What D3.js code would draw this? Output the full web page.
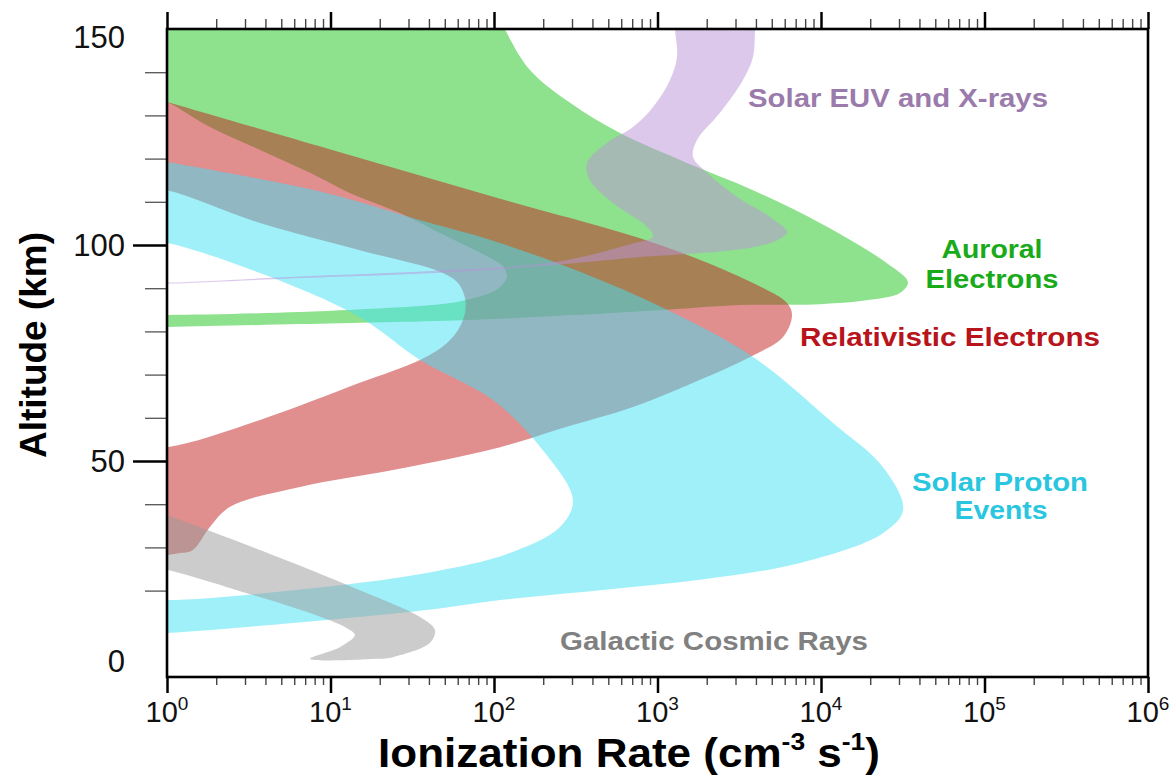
<!DOCTYPE html>
<html><head><meta charset="utf-8">
<script src="https://cdn.jsdelivr.net/npm/d3@7"></script>
<style>
body{margin:0;background:#fff}
svg{display:block}
text{font-family:"Liberation Sans",Arial,Helvetica,sans-serif}
</style>
</head><body>
<svg id="chart" width="1176" height="780"></svg>
<script>
// ---- data: outlines of each ionization band as [rate (cm^-3 s^-1), altitude (km)] ----
const xDecades = [0,1,2,3,4,5,6];
const yMajorTicks = [50,100];
const yMinorTicks = [20,30,40,60,70,80,90,110,120,130,140];
const yTickLabels = [0,50,100,150];

const auroralElectrons = [
  [0.5,165],[95,157],[117,149.8],[166,140.5],[292,132.9],[590,125.9],[1514,119.0],[3837,112.7],
  [9860,105.1],[25300,95.8],[34000,91.4],[30400,88.9],[19950,87.3],[9860,86.3],[3200,86.1],
  [1143,85.0],[253,83.6],[64.6,82.6],[6.51,81.7],[1,81.0],[0.5,80.8],[0.5,84.0],[1,83.8],
  [6.51,84.5],[26.6,85.6],[46.7,86.3],[59.4,86.8],[94.6,88.9],[109,90.3],[120,92.6],[113.5,95.1],
  [94.6,97.0],[53.8,101.6],[26.6,107.4],[13.2,112.0],[7.5,116.7],[3.71,122.0],[1.83,127.3],
  [1,133.1],[0.6,136]
];
const relativisticElectrons = [
  [0.5,136.4],[1,133.1],[10,122.1],[100,111.1],[1036,100.0],[3837,91.2],[6194,86.6],[6650,83.8],
  [5860,78.7],[3680,74.1],[1820,68.8],[708,62.5],[279,57.9],[109,53.2],[24.1,47.9],[6.51,44.0],
  [2.43,39.4],[1.83,34.7],[1.44,29.4],[1.2,28.7],[0.5,28.5],[0.5,53.5],[1,53.2],[3.71,59.5],
  [15.1,68.1],[35.3,73.4],[50.1,76.9],[60.2,80.3],[66.5,84.3],[66.5,87.7],[60.2,91.2],[46.7,93.8],
  [15.1,98.8],[3.71,105.1],[1,112.7],[0.5,114]
];
const solarProtonEvents = [
  [0.5,121],[1,119.2],[9.52,112.0],[38.9,105.3],[94.6,101.2],[336,93.8],[1143,85.0],[3837,74.1],
  [11840,58.8],[23900,48.6],[31800,38.7],[23900,33.3],[7445,26.4],[1820,22.5],[445,20.1],
  [109,17.8],[38.9,15.5],[5.9,12.5],[1,10.2],[0.5,9.8],[0.5,18.3],[1,17.8],[5.9,20.1],[38.9,24.1],
  [125,28.7],[253,34.7],[304,41.0],[199,52.5],[98.6,64.1],[35.3,73.4],[15.1,83.3],[3.71,93.5],
  [1,100.5],[0.5,102]
];
const galacticCosmicRays = [
  [0.5,41.8],[1,37.5],[3.71,29.4],[15.1,20.1],[35.3,13.9],[43.5,10.9],[40.6,7.9],[24.1,4.6],
  [19.2,4.2],[7.5,4.2],[11.4,6.9],[14.1,9.7],[12.6,11.3],[7.5,14.8],[2.33,20.8],[1,24.8],[0.5,26.9]
];
const solarEUVXrays = [
  [1227,158],[1280,149.8],[1316,143.5],[1192,138.2],[938,131.9],[708,127.3],[491,123.6],[371,119.0],
  [386,115.0],[534,109.7],[863,104.2],[938,101.9],[679,100.2],[243,96.1],[46.7,94.1],[6.51,92.7],
  [1,91.3],[0.8,91.35],[0.8,91.05],[1,91.05],[6.51,92.35],[46.7,93.6],[243,95.4],[782,97.2],[1514,97.9],
  [3837,99.5],[5610,101.4],[6194,103.0],[4876,106.5],[3063,111.1],[2010,116.7],[1648,120.4],
  [1745,124.3],[2410,130.6],[3333,138.2],[3837,143.5],[3945,149.8],[4000,158]
];

const bands = [
  {name:"Auroral", pts:auroralElectrons, fill:"rgb(29,197,29)"},
  {name:"Relativistic", pts:relativisticElectrons, fill:"rgb(193,29,29)"},
  {name:"SPE", pts:solarProtonEvents, fill:"rgb(65,225,245)"},
  {name:"GCR", pts:galacticCosmicRays, fill:"rgb(153,153,153)"},
  {name:"EUV", pts:solarEUVXrays, fill:"rgb(185,145,215)"}
];

// ---- layout ----
const svg = d3.select("#chart");
const L = 167, R = 1148, T = 29, B = 677;
const x = d3.scaleLog().domain([1,1e6]).range([L,R]);
const y = d3.scaleLinear().domain([0,150]).range([B,T]);

svg.append("defs").append("clipPath").attr("id","plotclip")
  .append("rect").attr("x",L).attr("y",T).attr("width",R-L).attr("height",B-T);

const line = d3.line().x(d=>x(d[0])).y(d=>y(d[1])).curve(d3.curveCatmullRomClosed.alpha(0.5));
const gBands = svg.append("g").attr("clip-path","url(#plotclip)");
gBands.selectAll("path").data(bands).join("path")
  .attr("d", d=>line(d.pts))
  .attr("fill", d=>d.fill)
  .attr("fill-opacity",0.5)
  .attr("stroke","none");

// ---- axes ----
const minor = [];
for (let e=0;e<6;e++) for (let m=2;m<10;m++) minor.push(m*Math.pow(10,e));
const major = xDecades.map(e=>Math.pow(10,e));

function styleAxis(g, w, c){
  g.select(".domain").remove();
  g.selectAll(".tick line").attr("stroke",c).attr("stroke-width",w);
  g.selectAll(".tick text").remove();
}
svg.append("g").attr("transform",`translate(0,${B})`)
  .call(d3.axisBottom(x).tickValues(minor).tickSize(8)).call(g=>styleAxis(g,1.4,"#444"));
svg.append("g").attr("transform",`translate(0,${B})`)
  .call(d3.axisBottom(x).tickValues(major).tickSize(16)).call(g=>styleAxis(g,2.5,"#000"));
svg.append("g").attr("transform",`translate(0,${T})`)
  .call(d3.axisTop(x).tickValues(minor).tickSize(10)).call(g=>styleAxis(g,1.4,"#444"));
svg.append("g").attr("transform",`translate(0,${T})`)
  .call(d3.axisTop(x).tickValues(major).tickSize(17)).call(g=>styleAxis(g,2.5,"#000"));
svg.append("g").attr("transform",`translate(${L},0)`)
  .call(d3.axisLeft(y).tickValues(yMinorTicks).tickSize(22)).call(g=>styleAxis(g,1.3,"#555"));
svg.append("g").attr("transform",`translate(${L},0)`)
  .call(d3.axisLeft(y).tickValues(yMajorTicks).tickSize(34)).call(g=>styleAxis(g,2.5,"#000"));

// frame
svg.append("rect").attr("x",L).attr("y",T).attr("width",R-L).attr("height",B-T)
  .attr("fill","none").attr("stroke","#000").attr("stroke-width",2.6);

// x tick labels
xDecades.forEach(e=>{
  const t = svg.append("text").attr("x",x(Math.pow(10,e))).attr("y",722)
    .attr("text-anchor","middle").attr("font-size",29).attr("fill","#111");
  t.append("tspan").text("10");
  t.append("tspan").attr("font-size",19).attr("dy",-12).text(String(e));
});
// y tick labels
const yLabelShift = {0:-16, 50:0, 100:0, 150:8};
yTickLabels.forEach(v=>{
  svg.append("text").attr("x",125).attr("y",y(v)+yLabelShift[v]).attr("dy","0.36em")
    .attr("text-anchor","end").attr("font-size",31).attr("fill","#111").text(String(v));
});

// axis titles
svg.append("text").attr("transform",`translate(46,${(T+B)/2 - 8}) rotate(-90)`)
  .attr("text-anchor","middle").attr("font-size",37).attr("font-weight","bold").attr("fill","#000")
  .text("Altitude (km)");
const xt = svg.append("text").attr("x",378).attr("y",767).attr("text-anchor","start")
  .attr("font-size",40).attr("font-weight","bold").attr("fill","#000")
  .attr("textLength",502).attr("lengthAdjust","spacingAndGlyphs");
xt.append("tspan").text("Ionization Rate (cm");
xt.append("tspan").attr("font-size",24).attr("dy",-17).text("-3");
xt.append("tspan").attr("dy",17).text(" s");
xt.append("tspan").attr("font-size",24).attr("dy",-17).text("-1");
xt.append("tspan").attr("dy",17).text(")");

// annotations
const ann = [
  {t:"Solar EUV and X-rays", x:748, y:107, w:300, c:"#9a7bab", a:"start"},
  {t:"Auroral", x:992, y:258, w:101, c:"#18aa18", a:"middle"},
  {t:"Electrons", x:992, y:288, w:133, c:"#18aa18", a:"middle"},
  {t:"Relativistic Electrons", x:800, y:346, w:300, c:"#b8141c", a:"start"},
  {t:"Solar Proton", x:1000, y:491, w:176, c:"#2ac6e0", a:"middle"},
  {t:"Events", x:1001, y:519, w:93, c:"#2ac6e0", a:"middle"},
  {t:"Galactic Cosmic Rays", x:560, y:650, w:308, c:"#808080", a:"start"}
];
ann.forEach(d=>{
  svg.append("text").attr("x",d.x).attr("y",d.y).attr("text-anchor",d.a)
    .attr("font-size",25).attr("font-weight","bold").attr("fill",d.c)
    .attr("textLength",d.w).attr("lengthAdjust","spacingAndGlyphs").text(d.t);
});
</script>
</body></html>
